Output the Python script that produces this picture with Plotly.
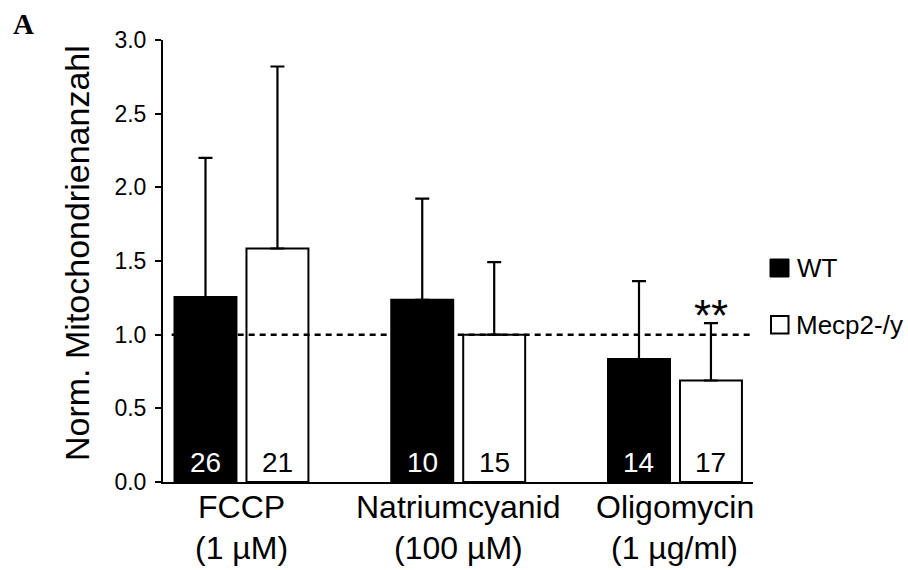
import plotly.graph_objects as go

# --- data -----------------------------------------------------------------
categories = ["FCCP", "Natriumcyanid", "Oligomycin"]
concentrations = ["(1 µM)", "(100 µM)", "(1 µg/ml)"]

wt_mean = [1.255, 1.237, 0.834]
wt_err = [0.945, 0.687, 0.530]          # upper SD
wt_n = [26, 10, 14]

ko_mean = [1.585, 1.000, 0.689]
ko_err = [1.235, 0.492, 0.389]
ko_n = [21, 15, 17]

significance = ["", "", "**"]          # Mecp2-/y vs. WT
reference_level = 1.0

y_ticks = [0.0, 0.5, 1.0, 1.5, 2.0, 2.5, 3.0]

# --- geometry helpers --------------------------------------------------------
W, H = 908, 570
ML, MR, MT, MB = 163, 155, 40, 88
PW, PH = W - ML - MR, H - MT - MB


def px_x(px):
    return (px - ML) / PW


def px_y(py):
    return (H - MB - py) / PH


FONT = "Liberation Sans, Arial, sans-serif"
x = list(range(len(categories)))
half = 0.166  # offset of each bar centre from the group centre

fig = go.Figure()
fig.add_trace(go.Bar(
    x=x, y=wt_mean, name="WT",
    marker=dict(color="black", line=dict(color="black", width=2)),
    error_y=dict(type="data", array=wt_err, arrayminus=[0] * 3, symmetric=False,
                 color="black", thickness=2.2, width=7),
))
fig.add_trace(go.Bar(
    x=x, y=ko_mean, name="Mecp2-/y",
    marker=dict(color="white", line=dict(color="black", width=2)),
    error_y=dict(type="data", array=ko_err, arrayminus=[0] * 3, symmetric=False,
                 color="black", thickness=2.2, width=7),
))

# dashed control level
fig.add_shape(type="line", xref="x", yref="y", x0=-0.322, x1=2.36,
              y0=reference_level, y1=reference_level,
              line=dict(color="black", width=2.5, dash="6px,5px"), layer="above")

ann = []
# n numbers inside the bars
for i in x:
    ann.append(dict(x=i - half, y=0.134, xref="x", yref="y", text=str(wt_n[i]),
                    showarrow=False, yanchor="middle",
                    font=dict(family=FONT, size=28, color="white")))
    ann.append(dict(x=i + half, y=0.134, xref="x", yref="y", text=str(ko_n[i]),
                    showarrow=False, yanchor="middle",
                    font=dict(family=FONT, size=28, color="black")))
    if significance[i]:
        ann.append(dict(x=i + half, y=ko_mean[i] + ko_err[i], xref="x", yref="y",
                        text=significance[i], showarrow=False, yanchor="middle",
                        yshift=8, font=dict(family=FONT, size=44, color="black")))
    # two-line category labels
    ann.append(dict(x=i, y=0, xref="x", yref="paper", text=categories[i],
                    showarrow=False, yanchor="middle", yshift=-25,
                    font=dict(family=FONT, size=32, color="black")))
    ann.append(dict(x=i, y=0, xref="x", yref="paper", text=concentrations[i],
                    showarrow=False, yanchor="middle", yshift=-66,
                    font=dict(family=FONT, size=32, color="black")))

# y-axis title
ann.append(dict(x=px_x(77), y=px_y(253), xref="paper", yref="paper",
                text="Norm. Mitochondrienanzahl", textangle=-90, showarrow=False,
                xanchor="center", yanchor="middle",
                font=dict(family=FONT, size=34, color="black")))
# panel letter
ann.append(dict(x=px_x(23), y=px_y(24), xref="paper", yref="paper", text="<b>A</b>",
                showarrow=False, xanchor="center", yanchor="middle",
                font=dict(family="Liberation Serif, Times New Roman, serif",
                          size=29, color="black")))

# legend
shapes_legend = [
    dict(type="rect", xref="paper", yref="paper", x0=px_x(770), x1=px_x(789),
         y0=px_y(277), y1=px_y(259), fillcolor="black", line=dict(color="black", width=1)),
    dict(type="rect", xref="paper", yref="paper", x0=px_x(771), x1=px_x(788.5),
         y0=px_y(333.5), y1=px_y(316), fillcolor="white", line=dict(color="black", width=2)),
]
for s in shapes_legend:
    fig.add_shape(**s)
ann.append(dict(x=px_x(795), y=px_y(268), xref="paper", yref="paper", text="WT",
                showarrow=False, xanchor="left", yanchor="middle",
                font=dict(family=FONT, size=26, color="black")))
ann.append(dict(x=px_x(794), y=px_y(325), xref="paper", yref="paper", text="Mecp2-/y",
                showarrow=False, xanchor="left", yanchor="middle",
                font=dict(family=FONT, size=26, color="black")))

fig.update_layout(
    width=W, height=H,
    margin=dict(l=ML, r=MR, t=MT, b=MB, pad=0),
    paper_bgcolor="white", plot_bgcolor="white",
    barmode="group", bargap=0.336, bargroupgap=0.139,
    showlegend=False,
    annotations=ann,
    xaxis=dict(range=[-0.362, 2.36], showline=True, linecolor="black", linewidth=2,
               showticklabels=False, ticks="", showgrid=False, zeroline=False),
    yaxis=dict(range=[0, 3], tickvals=y_ticks, ticktext=[f"{v:.1f}" for v in y_ticks],
               showline=True, linecolor="black", linewidth=2, ticks="outside",
               ticklen=6, tickwidth=2, tickcolor="black", showgrid=False,
               zeroline=False, ticklabelstandoff=4,
               tickfont=dict(family=FONT, size=23, color="black")),
)

fig.write_html("out.html")
